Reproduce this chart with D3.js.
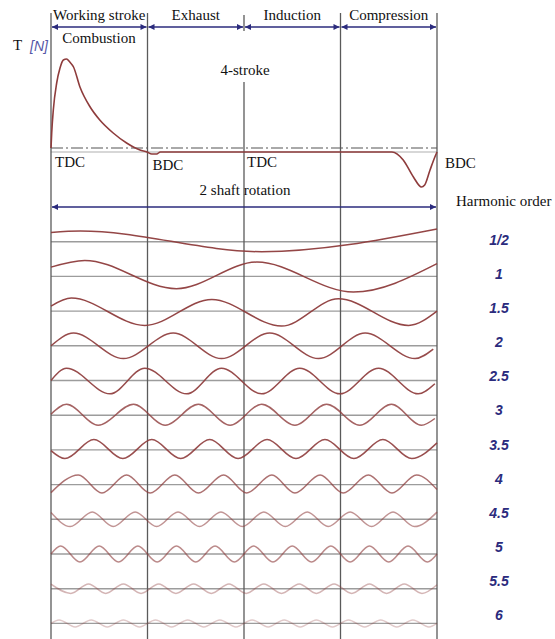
<!DOCTYPE html>
<html><head><meta charset="utf-8">
<script src="https://cdn.jsdelivr.net/npm/d3@7"></script>
<style>body{margin:0;background:#fff}svg{display:block}</style>
</head><body>
<svg id="c" width="555" height="639"></svg>
<script>
// ---------- data ----------
const strokes = ["Working stroke", "Exhaust", "Induction", "Compression"];
const strokeBounds = [0, 180, 360, 540, 720];
const deadCentres = ["TDC", "BDC", "TDC", "BDC"];
const deadCentreAngles = [0, 180, 360, 720];

const torqueAngle = [0, 1.3, 4.3, 10.6, 16.8, 23, 29, 35, 42, 54, 73, 91, 116, 141, 166, 179, 188, 197, 204, 250, 636, 657, 676, 691, 697, 707, 716, 720];
const torqueValue = [0, 15, 38, 65, 80, 88, 89, 86, 81, 61, 41, 28, 15, 5, -2, -4, -6, -6, -4, -4, -4, -12, -29, -39, -37, -22, -9, -4];

const harmonicOrders = ["1/2", "1", "1.5", "2", "2.5", "3", "3.5", "4", "4.5", "5", "5.5", "6"];

// [crank angle, value] of each harmonic, read at its start, peaks, troughs and end
const h05 = [[0,9.3],[55,10.7],[393,-10],[720,12.7]];
const h1  = [[0,9.3],[63,16],[234,-12.3],[384,14.3],[564,-15.7],[720,12.7]];
const h15 = [[0,5],[38,13],[175,-14.3],[300,11.7],[430,-15],[536,12.3],[667,-14.3],[720,0]];
const h2  = [[0,0],[42,12.7],[135,-12.7],[228,12.7],[318,-12.7],[408,12.7],[499,-12.7],[586,12.7],[679,-12.7],[713,-3.3]];
const h25 = [[0,0],[29,12.3],[110,-13.3],[175,12.3],[253,-13.3],[318,12.3],[393,-13.3],[464,12.3],[539,-13.3],[611,12.3],[685,-13.3],[716,-3.3]];
const h3  = [[0,1],[29,11],[88,-10],[154,11],[213,-10],[275,11],[334,-10],[393,11],[455,-10],[514,11],[576,-10],[635,11],[691,-10],[716,-3.3]];
const h35 = [[0,-0.7],[26,-8.7],[80,10.3],[134,-8.7],[188,10.3],[242,-8.7],[296,10.3],[349,-8.7],[403,10.3],[457,-8.7],[511,10.3],[565,-8.7],[619,10.3],[673,-8.7],[720,7]];
const h4  = [[0,-8],[51,9.7],[95,-8.3],[141,9.7],[185,-8.3],[231,9.7],[275,-8.3],[322,9.7],[365,-8.3],[412,9.7],[455,-8.3],[502,9.7],[545,-8.3],[592,9.7],[636,-8.3],[682,9.7],[720,-5]];
const h45 = [[0,6.7],[36,-7.3],[77,7.3],[116,-7.3],[157,7.3],[197,-7.3],[237,7.3],[277,-7.3],[317,7.3],[357,-7.3],[397,7.3],[437,-7.3],[478,7.3],[517,-7.3],[558,7.3],[598,-7.3],[638,7.3],[678,-7.3],[720,7.2]];
const h5  = [[0,0],[18,8],[54,-8],[90,8],[126,-8],[162,8],[198,-8],[234,8],[270,-8],[306,8],[342,-8],[378,8],[414,-8],[450,8],[486,-8],[522,8],[558,-8],[594,8],[630,-8],[666,8],[702,-8],[720,0]];
const h55 = [[0,4.5],[37,-4.7],[70,4.7],[102,-4.7],[135,4.7],[168,-4.7],[201,4.7],[233,-4.7],[266,4.7],[299,-4.7],[332,4.7],[364,-4.7],[397,4.7],[430,-4.7],[463,4.7],[495,-4.7],[528,4.7],[561,-4.7],[594,4.7],[626,-4.7],[659,4.7],[692,-4.7],[720,4]];
const h6  = [[0,0],[15,3.5],[45,-3.5],[75,3.5],[105,-3.5],[135,3.5],[165,-3.5],[195,3.5],[225,-3.5],[255,3.5],[285,-3.5],[315,3.5],[345,-3.5],[375,3.5],[405,-3.5],[435,3.5],[465,-3.5],[495,3.5],[525,-3.5],[555,3.5],[585,-3.5],[615,3.5],[645,-3.5],[675,3.5],[705,-3.5],[720,0]];
const harmonicCurves = [h05, h1, h15, h2, h25, h3, h35, h4, h45, h5, h55, h6];

// ---------- drawing ----------
const svg = d3.select("#c");
const W = 555, H = 639;
const serif = "'Liberation Serif','Times New Roman',serif";
const sans = "'Liberation Sans',Arial,sans-serif";
const navy = "#2b2b7d";
const curveCol = "#8e3c3c";

const x = d3.scaleLinear().domain([0, 720]).range([51, 437]);
const yT = d3.scaleLinear().domain([-40, 90]).range([188, 58]);
const rowY = d3.scalePoint().domain(harmonicOrders).range([241.7, 623.4]);
const labY = d3.scalePoint().domain(harmonicOrders).range([245, 620]);
const amp = d3.scaleLinear().domain([-20, 20]).range([20, -20]);

const defs = svg.append("defs");
defs.append("marker").attr("id", "ah")
  .attr("viewBox", "0 0 10 10").attr("refX", 10).attr("refY", 5)
  .attr("markerUnits", "userSpaceOnUse").attr("markerWidth", 9).attr("markerHeight", 6)
  .attr("orient", "auto-start-reverse")
  .append("path").attr("d", "M0,0L10,5L0,10z").attr("fill", navy);

// harmonic baselines
svg.append("g").selectAll("line").data(harmonicOrders).join("line")
  .attr("x1", x(0)).attr("x2", x(720))
  .attr("y1", d => rowY(d)).attr("y2", d => rowY(d))
  .attr("stroke", "#9c9c9c").attr("stroke-width", 1.4);

// torque reference lines
svg.append("line").attr("x1", x(0)).attr("x2", x(720))
  .attr("y1", yT(-4)).attr("y2", yT(-4))
  .attr("stroke", "#b0b0b0").attr("stroke-width", 1.2);
svg.append("line").attr("x1", x(0)).attr("x2", x(720))
  .attr("y1", yT(0)).attr("y2", yT(0))
  .attr("stroke", "#555").attr("stroke-width", 1.1)
  .attr("stroke-dasharray", "12,3,2,3");

// vertical stroke boundaries
const vg = svg.append("g").attr("stroke", "#5a5a5a").attr("stroke-width", 1.3);
strokeBounds.forEach((a, i) => {
  if (a === 360) {
    vg.append("line").attr("x1", x(a)).attr("x2", x(a)).attr("y1", 15).attr("y2", 31);
    vg.append("line").attr("x1", x(a)).attr("x2", x(a)).attr("y1", 82).attr("y2", H);
  } else {
    vg.append("line").attr("x1", x(a)).attr("x2", x(a)).attr("y1", 13).attr("y2", H);
  }
});

// stroke arrows & labels
strokes.forEach((s, i) => {
  const a0 = strokeBounds[i], a1 = strokeBounds[i + 1];
  svg.append("line").attr("x1", x(a0) + 1).attr("x2", x(a1) - 1)
    .attr("y1", 27).attr("y2", 27)
    .attr("stroke", navy).attr("stroke-width", 1.4)
    .attr("marker-start", "url(#ah)").attr("marker-end", "url(#ah)");
  svg.append("text").attr("x", (x(a0) + x(a1)) / 2).attr("y", 20)
    .attr("text-anchor", "middle").attr("font-family", serif).attr("font-size", 15)
    .attr("fill", "#111").text(s);
});

// long rotation arrow
svg.append("line").attr("x1", x(0) + 1).attr("x2", x(720) - 1)
  .attr("y1", 207).attr("y2", 207)
  .attr("stroke", navy).attr("stroke-width", 1.4)
  .attr("marker-start", "url(#ah)").attr("marker-end", "url(#ah)");

// texts
const txt = (t, xx, yy, opts = {}) => svg.append("text").attr("x", xx).attr("y", yy)
  .attr("font-family", opts.family || serif).attr("font-size", opts.size || 15)
  .attr("font-style", opts.style || "normal").attr("font-weight", opts.weight || "normal")
  .attr("text-anchor", opts.anchor || "start").attr("fill", opts.fill || "#111").text(t);

txt("Combustion", 99, 43, {anchor: "middle"});
txt("T", 13, 50);
txt("[N]", 30, 51, {family: sans, style: "italic", size: 14, fill: "#5656a6"});
txt("4-stroke", x(360) + 1, 75, {anchor: "middle"});
txt("2 shaft rotation", x(360) + 1, 195, {anchor: "middle"});
txt("Harmonic order", 456, 206);

const dcOffsets = [4, 5, 3, 8];
const dcBase = [167, 170, 167, 168];
deadCentres.forEach((d, i) => txt(d, x(deadCentreAngles[i]) + dcOffsets[i], dcBase[i]));

// torque curve
const torque = torqueAngle.map((a, i) => [a, torqueValue[i]]);
svg.append("path").datum(torque)
  .attr("d", d3.line().x(d => x(d[0])).y(d => yT(d[1])).curve(d3.curveMonotoneX))
  .attr("fill", "none").attr("stroke", curveCol).attr("stroke-width", 1.6);

// harmonic curves
const opac = [0.95, 0.95, 0.95, 0.92, 0.92, 0.8, 0.9, 0.72, 0.55, 0.6, 0.38, 0.28];
harmonicCurves.forEach((pts, i) => {
  const base = rowY(harmonicOrders[i]);
  svg.append("path").datum(pts)
    .attr("d", d3.line().x(d => x(d[0])).y(d => base + amp(d[1])).curve(d3.curveMonotoneX))
    .attr("fill", "none").attr("stroke", curveCol).attr("stroke-width", 1.5)
    .attr("stroke-opacity", opac[i]);
});

// harmonic order labels
svg.append("g").selectAll("text").data(harmonicOrders).join("text")
  .attr("x", 499).attr("y", d => labY(d))
  .attr("text-anchor", "middle").attr("font-family", sans).attr("font-size", 14)
  .attr("font-weight", "bold").attr("font-style", "italic").attr("fill", navy)
  .text(d => d);
</script>
</body></html>
